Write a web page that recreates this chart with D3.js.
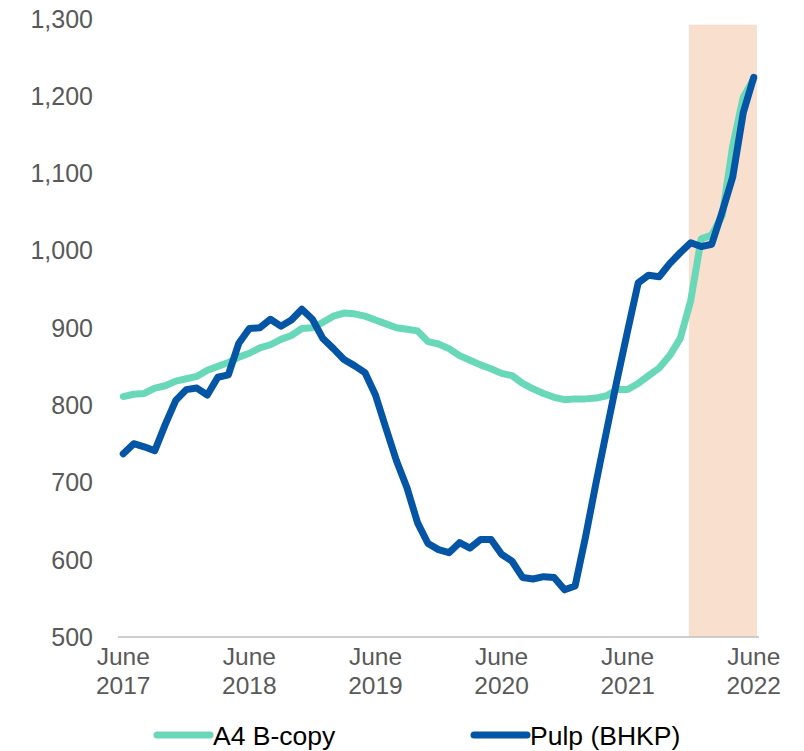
<!DOCTYPE html>
<html>
<head>
<meta charset="utf-8">
<script src="https://cdn.jsdelivr.net/npm/d3@7"></script>
<style>
  body { margin: 0; background: #fff; }
  svg text { font-family: "Liberation Sans", Arial, sans-serif; fill: #595959; }
</style>
</head>
<body>
<svg width="804" height="751"></svg>
<script>
// monthly, June 2017 .. June 2022
var months = d3.timeMonth.range(new Date(2017, 5, 1), new Date(2022, 6, 1));

var a4Copy = [
  811, 814, 815, 822, 825, 831, 834, 837, 845, 850, 855, 862,
  867, 874, 878, 885, 890, 899, 900, 907, 915, 919, 918, 915,
  910, 905, 900, 898, 896, 882, 879, 873, 864, 858, 852, 847,
  841, 838, 828, 821, 815, 810, 807, 808, 808, 809, 812, 820,
  820, 828, 838, 848, 864, 886, 935, 1015, 1020, 1045, 1135, 1198,
  1222
];

var pulp = [
  737, 750, 746, 741, 775, 806, 820, 822, 813, 836, 839, 880,
  899, 900, 911, 902, 910, 924, 911, 886, 873, 859, 851, 842,
  813, 770, 728, 693, 648, 621, 613, 609, 622, 615, 626, 626,
  607, 598, 577, 575, 578, 577, 561, 566, 630, 700, 767, 833,
  896, 958, 968, 966, 983, 997, 1010, 1005, 1008, 1050, 1095, 1178,
  1224
];

var yTicks = [500, 600, 700, 800, 900, 1000, 1100, 1200, 1300];
var xTickMonths = [0, 12, 24, 36, 48, 60];   // index into months
var shadeFrom = 54, shadeTo = 60;            // Dec 2021 .. Jun 2022
var seriesNames = ["A4 B-copy", "Pulp (BHKP)"];
var colors = ["#69d8b9", "#0455a6"];

var svg = d3.select("svg");

var x = d3.scalePoint()
    .domain(d3.range(months.length))
    .range([118, 759])
    .padding(0.5);

var y = d3.scaleLinear()
    .domain([500, 1300])
    .range([637, 18.5]);

var step = x.step();

// shaded forecast period
svg.append("rect")
    .attr("x", x(shadeFrom) - step * 0.17)
    .attr("y", y(1292))
    .attr("width", x(shadeTo) - x(shadeFrom) + step * 0.47)
    .attr("height", y(500) - y(1292))
    .attr("fill", "#f9dfcd");

// x axis line
svg.append("line")
    .attr("x1", 118).attr("x2", 759)
    .attr("y1", y(500)).attr("y2", y(500))
    .attr("stroke", "#bfbfbf").attr("stroke-width", 1.5);

// y labels
svg.selectAll(".ylab")
  .data(yTicks)
  .enter().append("text")
    .attr("class", "ylab")
    .attr("x", 93)
    .attr("y", function(d) { return y(d); })
    .attr("dy", "0.36em")
    .attr("text-anchor", "end")
    .style("font-size", "25px")
    .text(function(d) { return d3.format(",")(d); });

// x labels
var xl = svg.selectAll(".xlab")
  .data(xTickMonths)
  .enter().append("text")
    .attr("class", "xlab")
    .attr("text-anchor", "middle")
    .style("font-size", "24.5px");
xl.append("tspan")
    .attr("x", function(d) { return x(d); })
    .attr("y", 665)
    .text("June");
xl.append("tspan")
    .attr("x", function(d) { return x(d); })
    .attr("y", 694)
    .text(function(d) { return months[d].getFullYear(); });

var line = d3.line()
    .x(function(d, i) { return x(i); })
    .y(function(d) { return y(d); });

[a4Copy, pulp].forEach(function(s, k) {
  svg.append("path")
      .datum(s)
      .attr("d", line)
      .attr("fill", "none")
      .attr("stroke", colors[k])
      .attr("stroke-width", 7)
      .attr("stroke-linejoin", "round")
      .attr("stroke-linecap", "round");
});

// legend
var legX = [157, 474];
seriesNames.forEach(function(name, k) {
  svg.append("line")
      .attr("x1", legX[k]).attr("x2", legX[k] + 53)
      .attr("y1", 735).attr("y2", 735)
      .attr("stroke", colors[k])
      .attr("stroke-width", 7)
      .attr("stroke-linecap", "round");
  svg.append("text")
      .attr("x", legX[k] + 56)
      .attr("y", 745)
      .style("font-size", "26.5px")
      .style("fill", "#000")
      .text(name);
});
</script>
</body>
</html>
